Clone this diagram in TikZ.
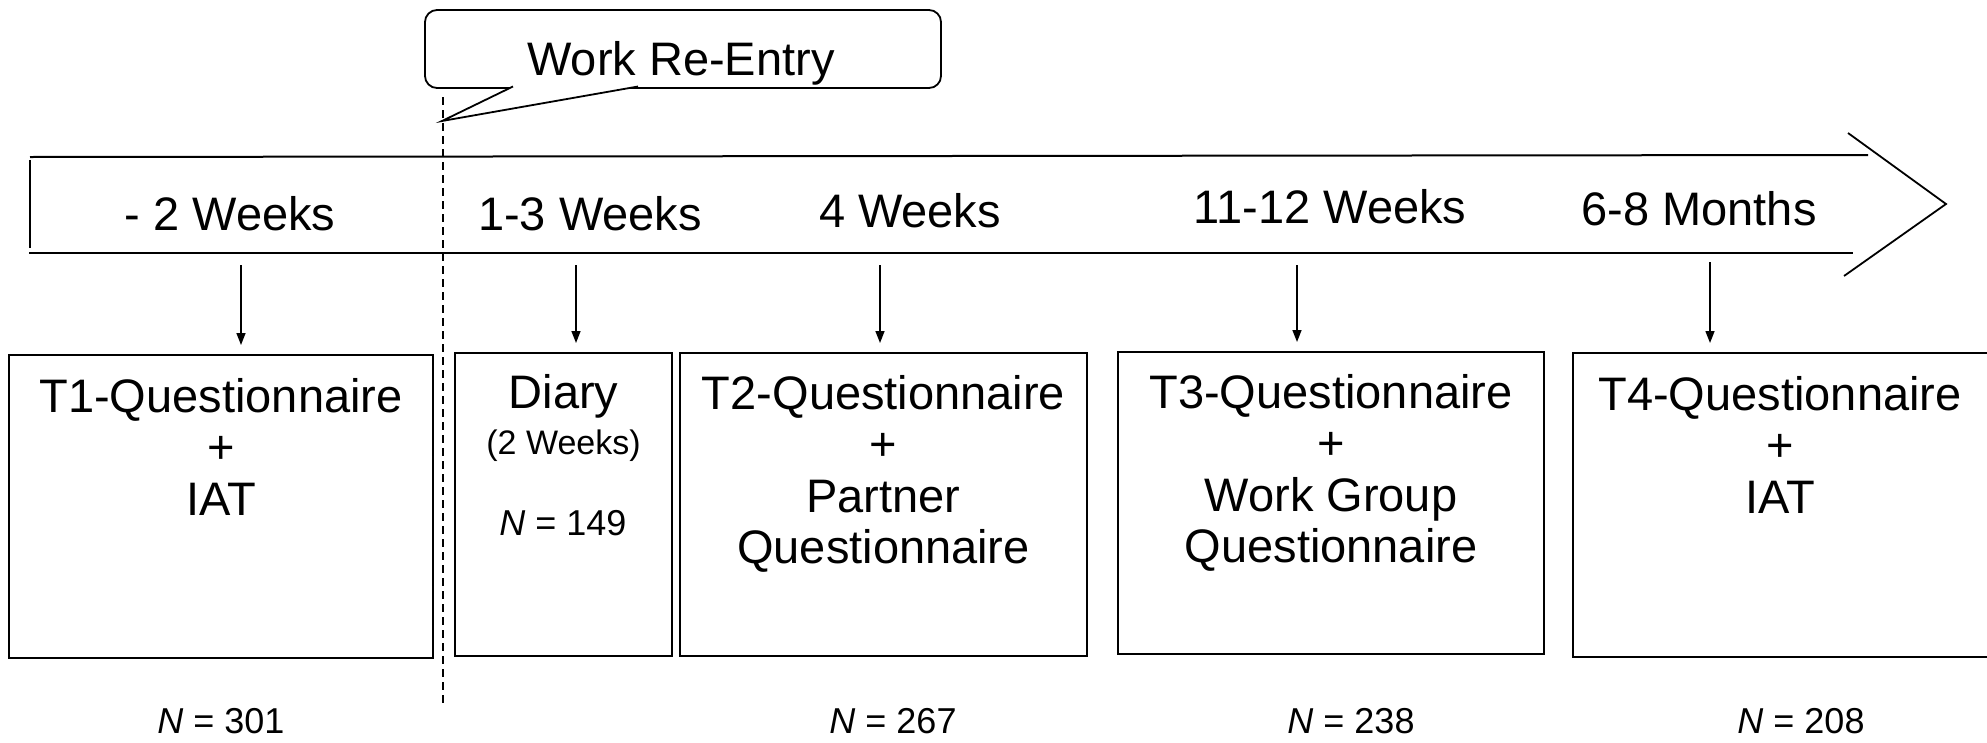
\documentclass[tikz,border=0pt]{standalone}
\usepackage{fontspec}
\setmainfont{Liberation Sans}
\usetikzlibrary{arrows.meta}

\begin{document}
\begin{tikzpicture}[x=1pt,y=-1pt,
  bigtext/.style={font=\fontsize{47}{51.5}\selectfont, inner sep=0pt, outer sep=0pt},
  period/.style={bigtext, anchor=base},
  boxtext/.style={bigtext, anchor=north, align=center},
  smalltext/.style={font=\fontsize{34}{40}\selectfont, inner sep=0pt, anchor=base},
  ntext/.style={font=\fontsize{36}{42}\selectfont, inner sep=0pt, anchor=base},
  stagebox/.style={draw, line width=1.8pt, inner sep=0pt, outer sep=0pt},
  axisline/.style={line width=2pt},
  feed/.style={line width=1.5pt, -{Triangle[length=12pt,width=9pt]}, shorten >=10pt},
  bubble/.style={draw, line width=1.8pt, rounded corners=12pt, inner sep=0pt, outer sep=0pt}
]
\useasboundingbox (0,0) rectangle (1987,742);
\clip (0,0) rectangle (1987,742);

% time axis drawn as an open arrow
\coordinate (axTL) at (30,157);
\coordinate (axTR) at (1868,155);
\coordinate (axBL) at (29,253);
\coordinate (axBR) at (1853,253);
\coordinate (axL1) at (30,160);
\coordinate (axL2) at (30,248);
\coordinate (chevA) at (1848,133);
\coordinate (chevT) at (1946,204);
\coordinate (chevB) at (1844,276);
\draw[axisline] (axTL) -- (axTR);
\draw[axisline] (axBL) -- (axBR);
\draw[axisline] (axL1) -- (axL2);
\draw[line width=1.8pt] (chevA) -- (chevT) -- (chevB);

% period labels on the axis
\node[period] (w1) at (230,230) {- 2 Weeks};
\node[period] (w2) at (590,230) {1-3 Weeks};
\node[period] (w3) at (910,227) {4 Weeks};
\node[period] (w4) at (1330,223) {11-12 Weeks};
\node[period] (w5) at (1699,225) {6-8 Months};

% re-entry marker
\coordinate (dtop) at (443,97);
\coordinate (dbot) at (443,703);
\draw[line width=1.3pt, dash pattern=on 8pt off 5pt] (dtop) -- (dbot);

\node[bubble, minimum width=516pt, minimum height=78pt] (reentry) at (683,49) {};
\node[period] (reentrytext) at (681,75) {Work Re-Entry};
\coordinate (tip) at (442,121);
\coordinate (tailL) at (513,86.5);
\coordinate (tailR) at (638,86.5);
\draw[line width=1.8pt, fill=white, line join=miter] (tailL) -- (tip) -- (tailR);

% measurement stages
\node[stagebox, minimum width=424pt, minimum height=303pt] (b1) at (221,506.5) {};
\node[stagebox, minimum width=217pt, minimum height=303pt] (b2) at (563.5,504.5) {};
\node[stagebox, minimum width=407pt, minimum height=303pt] (b3) at (883.5,504.5) {};
\node[stagebox, minimum width=426pt, minimum height=302pt] (b4) at (1331,503) {};
\node[stagebox, minimum width=416pt, minimum height=304pt] (b5) at (1781,505) {};

\node[boxtext] (t1) at (221,376) {\strut T1-Questionnaire\\+\\IAT};
\node[period] (diary) at (563.5,408) {Diary};
\node[smalltext] (diaryweeks) at (563.5,454) {(2 Weeks)};
\node[ntext] (n2) at (563,535) {\textit{N} = 149};
\node[boxtext] (t2) at (883.5,373) {\strut T2-Questionnaire\\+\\Partner\\Questionnaire};
\node[boxtext] (t3) at (1331,372) {\strut T3-Questionnaire\\+\\Work Group\\Questionnaire};
\node[boxtext] (t4) at (1780,374) {\strut T4-Questionnaire\\+\\IAT};

% arrows from the axis to each stage
\coordinate (s1) at (241,265);
\coordinate (s2) at (576,265);
\coordinate (s3) at (880,265);
\coordinate (s4) at (1297,265);
\coordinate (s5) at (1710,262);
\draw[feed] (s1) -- (s1 |- b1.north);
\draw[feed] (s2) -- (s2 |- b2.north);
\draw[feed] (s3) -- (s3 |- b3.north);
\draw[feed] (s4) -- (s4 |- b4.north);
\draw[feed] (s5) -- (s5 |- b5.north);

% sample sizes
\node[ntext] (n1) at (221,733) {\textit{N} = 301};
\node[ntext] (n3) at (893,733) {\textit{N} = 267};
\node[ntext] (n4) at (1351,733) {\textit{N} = 238};
\node[ntext] (n5) at (1801,733) {\textit{N} = 208};
\end{tikzpicture}
\end{document}
